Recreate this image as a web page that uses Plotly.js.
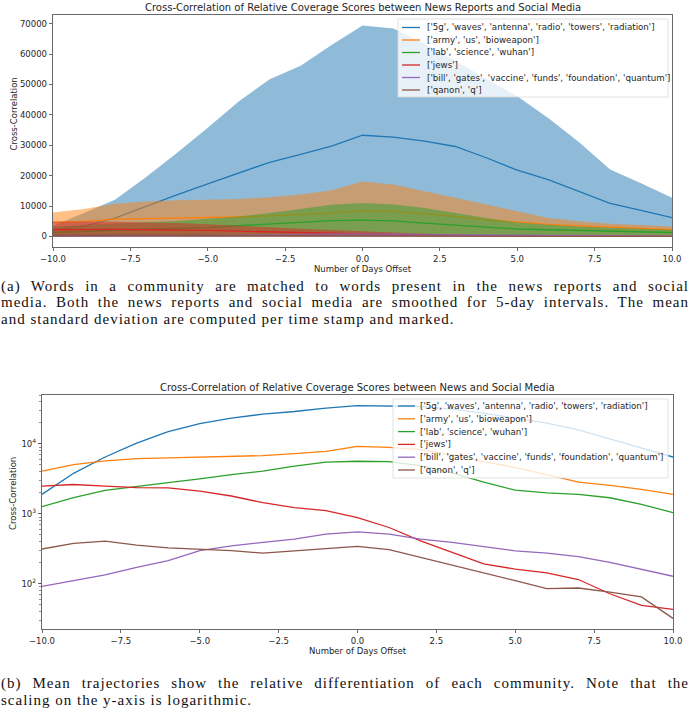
<!DOCTYPE html>
<html>
<head>
<meta charset="utf-8">
<script src="https://cdn.plot.ly/plotly-3.0.1.min.js"></script>
<style>
body { margin: 0; background: #fff; }
#wrap { position: relative; width: 690px; height: 714px; overflow: hidden; }
#chart { position: absolute; left: 0; top: 0; width: 690px; height: 714px; }
.cap { position: absolute; left: 1px; width: 688px; font-family: "Liberation Serif", serif;
       font-size: 15px; line-height: 16.6px; letter-spacing: 1px; color: #111; }
.cap div { text-align: justify; text-align-last: justify; }
.cap div.last { text-align-last: left; }
</style>
</head>
<body>
<div id="wrap">
  <div id="chart"></div>
  <div class="cap" style="top:277.5px">
    <div>(a) Words in a community are matched to words present in the news reports and social</div>
    <div>media. Both the news reports and social media are smoothed for 5-day intervals. The mean</div>
    <div class="last">and standard deviation are computed per time stamp and marked.</div>
  </div>
  <div class="cap" style="top:675px">
    <div>(b) Mean trajectories show the relative differentiation of each community. Note that the</div>
    <div class="last">scaling on the y-axis is logarithmic.</div>
  </div>
</div>
<script>
var days = [-10, -9, -8, -7, -6, -5, -4, -3, -2, -1, 0, 1, 2, 3, 4, 5, 6, 7, 8, 9, 10];

var communities = [
    "['5g', 'waves', 'antenna', 'radio', 'towers', 'radiation']",
    "['army', 'us', 'bioweapon']",
    "['lab', 'science', 'wuhan']",
    "['jews']",
    "['bill', 'gates', 'vaccine', 'funds', 'foundation', 'quantum']",
    "['qanon', 'q']"
];

// (a) news reports vs social media: mean and top of the mean + std band
var reports5g      = [2200, 3300, 6000, 9900, 13700, 17300, 20900, 24400, 27000, 29700, 33300, 32700, 31400, 29600, 25900, 21800, 18700, 14900, 10900, 8600, 6200];
var reports5gTop   = [3500, 7700, 12100, 19500, 27500, 35800, 44400, 51700, 56200, 63000, 69400, 68400, 63500, 57700, 51900, 46100, 39000, 31000, 22000, 17500, 12700];
var reportsArmy    = [4600, 4950, 5700, 5850, 6000, 6200, 6400, 6800, 7200, 7700, 8500, 8250, 7400, 6600, 5500, 4600, 3950, 3500, 3100, 2650, 2200];
var reportsArmyTop = [7900, 9000, 10800, 11500, 11900, 12100, 12300, 12900, 13800, 15200, 18100, 17100, 14900, 12700, 10500, 8300, 6100, 5000, 4200, 3750, 3300];
var reportsLab     = [1300, 1700, 2100, 2400, 2700, 3000, 3600, 4200, 4800, 5200, 5400, 5100, 4400, 3750, 3100, 2450, 2200, 2000, 1800, 1550, 1300];
var reportsLabTop  = [3200, 3800, 4300, 4700, 5100, 5800, 6600, 7700, 9000, 10400, 11000, 10500, 9400, 7700, 6100, 4600, 3850, 3300, 2900, 2550, 2200];
var reportsJews    = [2200, 2350, 2300, 2200, 2150, 2000, 1750, 1450, 1250, 1050, 850, 650, 420, 290, 200, 165, 145, 115, 75, 50, 45];
var reportsJewsTop = [4800, 4900, 4800, 4600, 4400, 4000, 3500, 3000, 2500, 2100, 1700, 1300, 900, 650, 450, 380, 330, 270, 180, 120, 100];
var reportsBill    = [92, 111, 134, 172, 214, 297, 349, 390, 434, 513, 553, 513, 435, 390, 343, 296, 275, 245, 203, 163, 128];
var reportsBillTop = [200, 240, 290, 370, 460, 640, 750, 840, 930, 1100, 1190, 1100, 930, 840, 740, 640, 590, 530, 440, 350, 280];
var reportsQanon   = [314, 378, 408, 357, 327, 314, 297, 275, 297, 324, 343, 307, 239, 182, 143, 111, 85, 87, 76, 65, 32];
var reportsQanonTop = [700, 840, 900, 790, 720, 690, 650, 600, 650, 710, 750, 670, 520, 400, 310, 240, 185, 190, 165, 140, 70];

// (b) news vs social media: mean trajectories
var news5g    = [1900, 3800, 6500, 10300, 15000, 19500, 23400, 26700, 29100, 32500, 35400, 35000, 34300, 31400, 27600, 23400, 19800, 15900, 11800, 8800, 6500];
var newsArmy  = [4070, 5070, 5740, 6170, 6320, 6450, 6600, 6810, 7280, 7850, 9250, 8950, 8300, 7000, 5600, 4600, 3650, 2850, 2550, 2240, 1900];
var newsLab   = [1270, 1710, 2170, 2490, 2790, 3170, 3650, 4070, 4800, 5500, 5650, 5600, 4900, 3860, 2850, 2180, 2000, 1900, 1700, 1370, 1040];
var newsJews  = [2490, 2630, 2490, 2370, 2350, 2120, 1800, 1445, 1230, 1115, 885, 638, 412, 282, 192, 162, 143, 115, 72, 49, 43];
var newsBill  = [92, 111, 134, 172, 214, 297, 349, 390, 434, 513, 553, 513, 435, 390, 343, 296, 275, 245, 203, 163, 128];
var newsQanon = [314, 378, 408, 357, 327, 314, 297, 275, 297, 324, 343, 307, 239, 182, 143, 111, 85, 87, 76, 65, 32];

var lineColors = ['#1f77b4', '#ff7f0e', '#2ca02c', '#d62728', '#9467bd', '#8c564b'];
var bandColors = ['rgba(31,119,180,0.5)', 'rgba(255,127,14,0.5)', 'rgba(44,160,44,0.5)',
                  'rgba(214,39,40,0.5)', 'rgba(148,103,189,0.5)', 'rgba(140,86,75,0.5)'];

var reportMeans = [reports5g, reportsArmy, reportsLab, reportsJews, reportsBill, reportsQanon];
var reportTops = [reports5gTop, reportsArmyTop, reportsLabTop, reportsJewsTop, reportsBillTop, reportsQanonTop];
var newsMeans = [news5g, newsArmy, newsLab, newsJews, newsBill, newsQanon];

var W = 690, H = 714;
function fx(p) { return p / W; }
function fy(p) { return 1 - p / H; }

var FONT = 'DejaVu Sans, sans-serif';
var INK = '#262626';

function drawChart() {
    var data = [];
    for (var i = 0; i < communities.length; i++) {
        data.push({
            x: days, y: reportMeans[i], xaxis: 'x', yaxis: 'y',
            type: 'scatter', mode: 'lines', name: communities[i],
            line: {color: lineColors[i], width: 1.3}, showlegend: false
        });
        data.push({
            x: days, y: reportTops[i], xaxis: 'x', yaxis: 'y',
            type: 'scatter', mode: 'none', fill: 'tozeroy', fillcolor: bandColors[i],
            showlegend: false, hoverinfo: 'skip'
        });
    }
    for (var i = 0; i < communities.length; i++) {
        data.push({
            x: days, y: newsMeans[i], xaxis: 'x2', yaxis: 'y2',
            type: 'scatter', mode: 'lines', name: communities[i],
            line: {color: lineColors[i], width: 1.3}, showlegend: false
        });
    }

    var axisStyle = {
        showgrid: false, zeroline: false, showline: true, mirror: true,
        linecolor: '#444', linewidth: 0.8,
        ticks: 'outside', ticklen: 3.5, tickwidth: 0.8, tickcolor: '#444',
        tickfont: {family: FONT, size: 8.5, color: INK}
    };
    function ax(extra) {
        var o = {};
        for (var k in axisStyle) o[k] = axisStyle[k];
        for (var k in extra) o[k] = extra[k];
        return o;
    }

    var shapes = [];
    var annotations = [];

    // hand made legends, matplotlib style
    function makeLegend(box, rowY, lineX0, lineX1, textX) {
        shapes.push({
            type: 'rect', xref: 'paper', yref: 'paper', layer: 'above',
            x0: fx(box[0]), x1: fx(box[1]), y0: fy(box[3]), y1: fy(box[2]),
            fillcolor: 'rgba(255,255,255,0.8)', line: {color: '#d9d9d9', width: 0.8}
        });
        for (var i = 0; i < communities.length; i++) {
            var yy = rowY[0] + i * rowY[1];
            shapes.push({
                type: 'line', xref: 'paper', yref: 'paper', layer: 'above',
                x0: fx(lineX0), x1: fx(lineX1), y0: fy(yy), y1: fy(yy),
                line: {color: lineColors[i], width: 1.3}
            });
            annotations.push({
                xref: 'paper', yref: 'paper', x: fx(textX), y: fy(yy),
                xanchor: 'left', yanchor: 'middle', showarrow: false,
                text: communities[i], font: {family: FONT, size: 8.7, color: INK}
            });
        }
    }
    makeLegend([398, 668, 19, 97], [27.5, 12.5], 402, 420, 425);
    makeLegend([393, 668, 399, 478], [406, 12.8], 398, 415, 418);

    annotations.push({
        xref: 'paper', yref: 'paper', x: fx(362.5), y: fy(8), xanchor: 'center', yanchor: 'middle',
        showarrow: false, font: {family: FONT, size: 10, color: INK},
        text: 'Cross-Correlation of Relative Coverage Scores between News Reports and Social Media'
    });
    annotations.push({
        xref: 'paper', yref: 'paper', x: fx(357.5), y: fy(387), xanchor: 'center', yanchor: 'middle',
        showarrow: false, font: {family: FONT, size: 10, color: INK},
        text: 'Cross-Correlation of Relative Coverage Scores between News and Social Media'
    });
    annotations.push({
        xref: 'paper', yref: 'paper', x: fx(13.5), y: fy(114), textangle: -90,
        xanchor: 'center', yanchor: 'middle', showarrow: false,
        font: {family: FONT, size: 8.5, color: INK}, text: 'Cross-Correlation'
    });
    annotations.push({
        xref: 'paper', yref: 'paper', x: fx(13), y: fy(494), textangle: -90,
        xanchor: 'center', yanchor: 'middle', showarrow: false,
        font: {family: FONT, size: 8.5, color: INK}, text: 'Cross-Correlation'
    });

    var layout = {
        width: W, height: H,
        margin: {l: 0, r: 0, t: 0, b: 0},
        paper_bgcolor: 'rgba(0,0,0,0)', plot_bgcolor: '#fff',
        showlegend: false,
        xaxis: ax({
            domain: [fx(53), fx(672)], anchor: 'y', range: [-10, 10],
            tickmode: 'linear', tick0: -10, dtick: 2.5, tickformat: '.1f',
            title: {text: 'Number of Days Offset', font: {family: FONT, size: 8.5, color: INK}, standoff: 3}
        }),
        yaxis: ax({
            domain: [fy(247), fy(15)], anchor: 'x', range: [-3470, 72870],
            tickmode: 'linear', tick0: 0, dtick: 10000, tickformat: 'd'
        }),
        xaxis2: ax({
            domain: [fx(42), fx(673)], anchor: 'y2', range: [-10, 10],
            tickmode: 'linear', tick0: -10, dtick: 2.5, tickformat: '.1f',
            title: {text: 'Number of Days Offset', font: {family: FONT, size: 8.5, color: INK}, standoff: 3}
        }),
        yaxis2: ax({
            domain: [fy(629), fy(395)], anchor: 'x2', type: 'log', range: [1.353, 4.70],
            tickmode: 'array', tickvals: [100, 1000, 10000],
            ticktext: ['10<sup>2</sup>', '10<sup>3</sup>', '10<sup>4</sup>'],
            minor: {ticks: 'outside', ticklen: 2, tickwidth: 0.6, tickcolor: '#444', dtick: 'D1'}
        }),
        shapes: shapes,
        annotations: annotations
    };

    Plotly.newPlot('chart', data, layout, {displayModeBar: false, staticPlot: true});
}

drawChart();
</script>
</body>
</html>
